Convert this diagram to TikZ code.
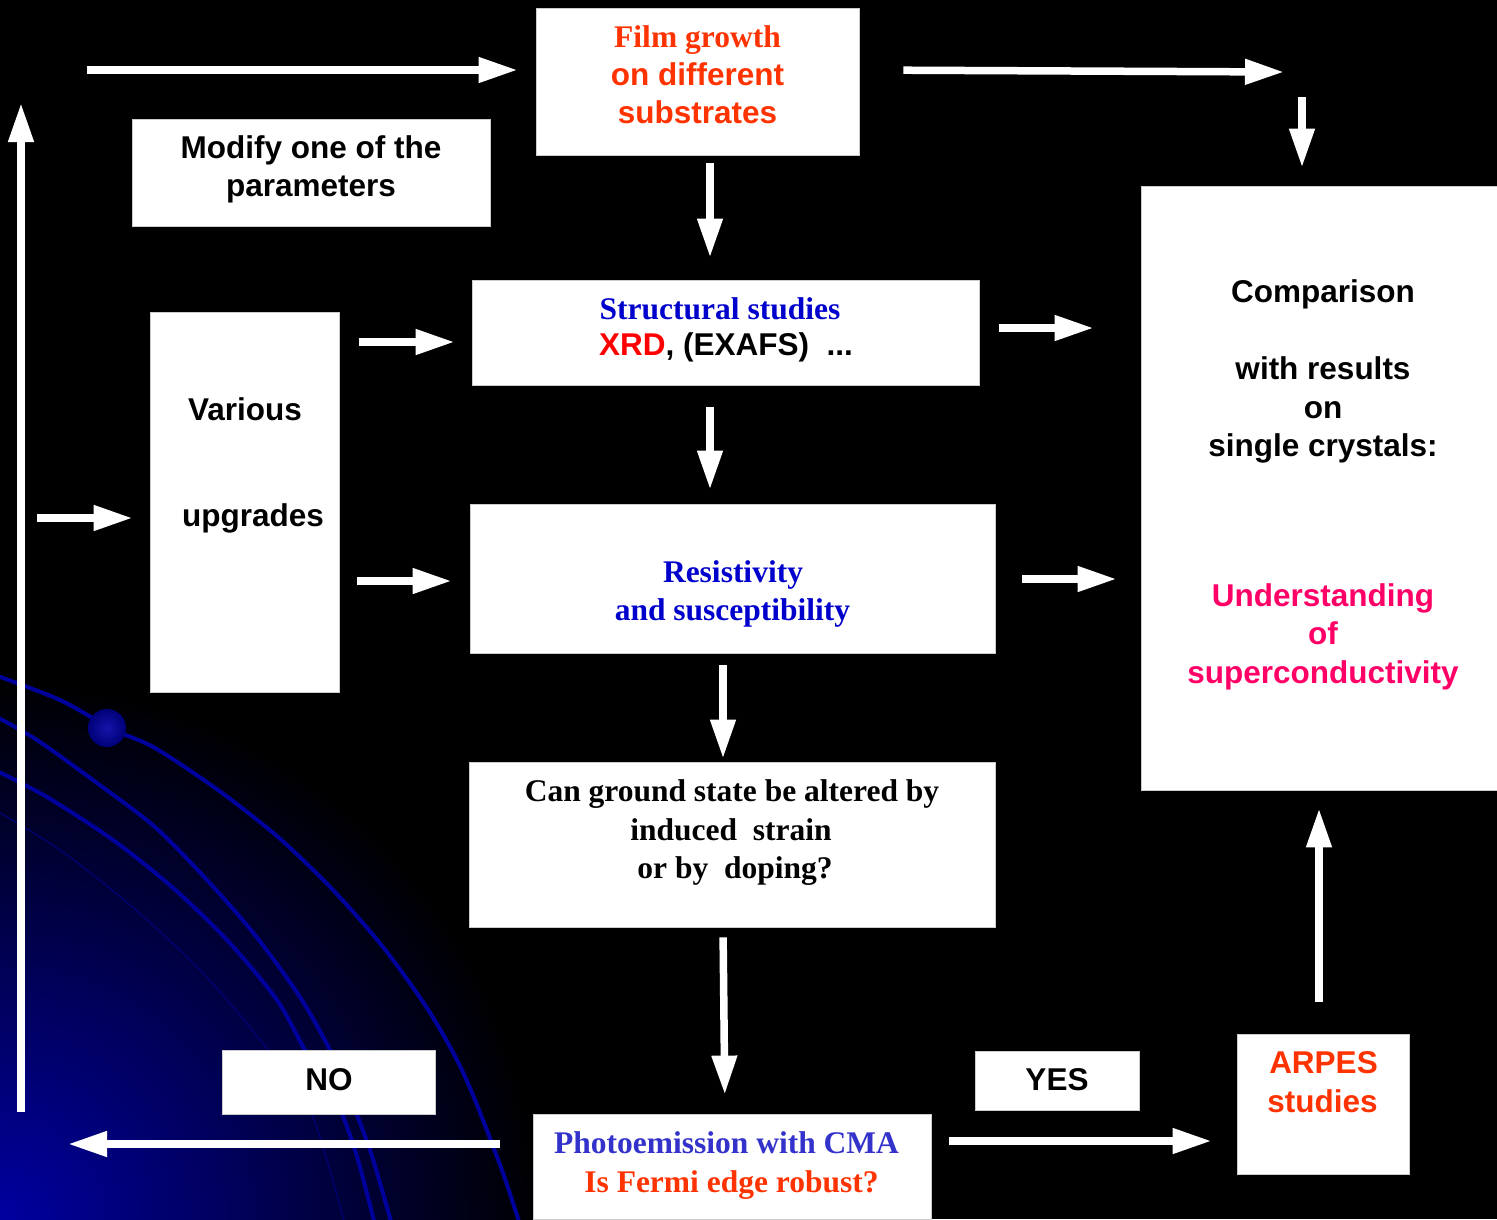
\documentclass[tikz,border=0pt]{standalone}
\usepackage{fontspec}
\newfontfamily\arialf{Liberation Sans}
\newfontfamily\timesf{Liberation Serif}
\usetikzlibrary{arrows.meta}
\definecolor{orred}{HTML}{FF3300}
\definecolor{deepblue}{HTML}{0000CC}
\definecolor{phblue}{HTML}{3333CC}
\definecolor{hotpk}{HTML}{FF0066}
\definecolor{arcblue}{HTML}{00009C}
\definecolor{bgblue}{HTML}{0000A0}
\begin{document}
\begin{tikzpicture}[x=1pt,y=-1pt,
  box/.style={rectangle, fill=white, draw=white!80!black, line width=0.8pt, inner sep=0pt},
  sf/.style={font=\arialf\bfseries\fontsize{31.5}{38}\selectfont, anchor=base, inner sep=0pt},
  rm/.style={font=\timesf\bfseries\fontsize{31.5}{38}\selectfont, anchor=base, inner sep=0pt},
  arr/.style={draw=white, line width=7.5pt, -{Triangle[length=39pt,width=24pt]}},
  orbit/.style={draw=arcblue, line width=4pt}]
\useasboundingbox (0,0) rectangle (1497,1219);
\fill[black] (0,0) rectangle (1497,1219);
\begin{scope}
  \clip (0,0) rectangle (1497,1219);
  \shade[inner color=bgblue, outer color=black] (0,1219) circle (540pt);
  \draw[orbit] plot[smooth] coordinates {(-5,675) (60,700) (112,729) (155,748) (218,790) (278,837) (333,890) (383,947) (427,1008) (457,1060) (477,1105) (503,1173) (520,1225)};
  \draw[orbit] plot[smooth] coordinates {(-5,716) (37,740) (97,783) (155,827) (207,880) (255,935) (300,997) (330,1050) (345,1085) (370,1150) (392,1225)};
  \draw[orbit] plot[smooth] coordinates {(-5,770) (47,797) (113,840) (172,887) (227,940) (277,1000) (305,1050) (330,1085) (355,1150) (375,1225)};
  \draw[draw=arcblue!70!black, line width=1.5pt] plot[smooth] coordinates {(-5,810) (60,850) (130,905) (200,970) (260,1040) (310,1110) (345,1225)};
  \shade[inner color={rgb,255:red,20;green,20;blue,170}, outer color={rgb,255:red,0;green,0;blue,120}] (107,728) circle (19pt);
\end{scope}

% boxes
\node[box, minimum width=323pt, minimum height=147pt] (film) at (697.5,81.5) {};
\node[box, minimum width=358pt, minimum height=107pt] (modify) at (311,172.5) {};
\node[box, minimum width=507pt, minimum height=105pt] (struct) at (725.5,332.5) {};
\node[box, minimum width=189pt, minimum height=380pt] (various) at (244.5,502) {};
\node[box, minimum width=525pt, minimum height=149pt] (resist) at (732.5,578.5) {};
\node[box, minimum width=526pt, minimum height=165pt] (ground) at (732,844.5) {};
\node[box, minimum width=356pt, minimum height=604pt] (comp) at (1319,488) {};
\node[box, minimum width=213pt, minimum height=64pt] (no) at (328.5,1082) {};
\node[box, minimum width=164pt, minimum height=59pt] (yes) at (1057,1080.5) {};
\node[box, minimum width=398pt, minimum height=105pt] (photo) at (732,1166.5) {};
\node[box, minimum width=172pt, minimum height=140pt] (arpes) at (1323,1104) {};

% texts
\node[rm, text=orred] (tf1) at (697.5,47) {Film growth};
\node[sf, text=orred] (tf2) at (697.5,85) {on different};
\node[sf, text=orred] (tf3) at (697.5,123) {substrates};
\node[sf] (tm1) at (311,158) {Modify one of the};
\node[sf] (tm2) at (311,196) {parameters};
\node[rm, text=deepblue] (ts1) at (720,319) {Structural studies};
\node[sf] (ts2) at (726,355) {\textcolor{red}{XRD}, (EXAFS)\ \ ...};
\node[sf] (tv1) at (245,420) {Various};
\node[sf] (tv2) at (253,526) {upgrades};
\node[rm, text=deepblue] (tr1) at (733,582) {Resistivity};
\node[rm, text=deepblue] (tr2) at (732.5,620) {and susceptibility};
\node[rm] (tg1) at (732,801) {Can ground state be altered by};
\node[rm] (tg2) at (731,840) {induced\ \ strain};
\node[rm] (tg3) at (735,878) {or by\ \ doping?};
\node[sf] (tc1) at (1323,302) {Comparison};
\node[sf] (tc2) at (1323,379) {with results};
\node[sf] (tc3) at (1323,418) {on};
\node[sf] (tc4) at (1323,456) {single crystals:};
\node[sf, text=hotpk] (tc5) at (1323,606) {Understanding};
\node[sf, text=hotpk] (tc6) at (1323,644) {of};
\node[sf, text=hotpk] (tc7) at (1323,683) {superconductivity};
\node[sf] (tno) at (329,1090) {NO};
\node[sf] (tyes) at (1057,1090) {YES};
\node[rm, text=phblue] (tp1) at (726.5,1153) {Photoemission with CMA};
\node[rm, text=orred] (tp2) at (731.5,1192) {Is Fermi edge robust?};
\node[sf, text=orred] (ta1) at (1323.5,1073) {ARPES};
\node[sf, text=orred] (ta2) at (1322.5,1112) {studies};

% free ends
\coordinate (a1s) at (87,70);
\coordinate (a2e) at (1284,72);
\coordinate (a3s) at (1302,97);
\coordinate (a8s) at (37,518);
\coordinate (a13e) at (68,1144);
\coordinate (a16s) at (21,1112);
\coordinate (a16e) at (21,103);

% arrows
\draw[arr, shorten >=18pt] (a1s) -- (film.west |- a1s);
\draw[arr, shorten <=44pt] ([yshift=11.5pt]film.east) -- (a2e);
\draw[arr, shorten >=18pt] (a3s) -- (comp.north -| a3s);
\draw[arr, shorten <=8pt, shorten >=22pt] ([xshift=12.5pt]film.south) -- ([xshift=-15.5pt]struct.north);
\draw[arr, shorten <=20pt, shorten >=17pt] ([yshift=160pt]various.east) -- ([yshift=-9.5pt]struct.west);
\draw[arr, shorten <=20pt, shorten >=47pt] ([yshift=4.5pt]struct.east) -- ([yshift=160pt]comp.west);
\draw[arr, shorten <=22pt, shorten >=14pt] ([xshift=-15.5pt]struct.south) -- ([xshift=-22.5pt]resist.north);
\draw[arr, shorten >=17pt] (a8s) -- ([yshift=-16pt]various.west);
\draw[arr, shorten <=18pt, shorten >=18pt] ([yshift=-79pt]various.east) -- ([yshift=-2.5pt]resist.west);
\draw[arr, shorten <=27pt, shorten >=24pt] ([yshift=-0.5pt]resist.east) -- ([yshift=-91pt]comp.west);
\draw[arr, shorten <=12pt, shorten >=3pt] ([xshift=-9.5pt]resist.south) -- ([xshift=-9pt]ground.north);
\draw[arr, shorten <=10pt, shorten >=19pt] ([xshift=-9pt]ground.south) -- ([xshift=-7pt]photo.north);
\draw[arr, shorten <=33pt] ([yshift=22.5pt]photo.west) -- (a13e);
\draw[arr, shorten <=18pt, shorten >=25pt] ([yshift=25.5pt]photo.east) -- ([yshift=-37pt]arpes.west);
\draw[arr, shorten <=32pt, shorten >=18pt] ([xshift=-4pt]arpes.north) -- (comp.south);
\draw[arr] (a16s) -- (a16e);
\end{tikzpicture}
\end{document}
